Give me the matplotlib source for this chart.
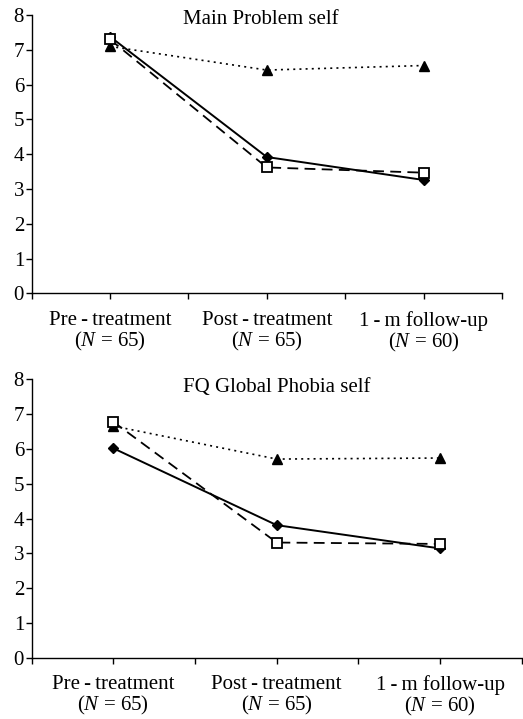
import matplotlib.pyplot as plt

plt.rcParams['font.family'] = ['Liberation Serif', 'DejaVu Serif']
plt.rcParams['mathtext.fontset'] = 'custom'
plt.rcParams['mathtext.rm'] = 'Liberation Serif'
plt.rcParams['mathtext.it'] = 'Liberation Serif:italic'

# time points
categories = ["Pre\u2009-\u2009treatment\n($N$ = 65)",
              "Post\u2009-\u2009treatment\n($N$ = 65)",
              "1\u2009-\u2009m follow-up\n($N$ = 60)"]

# Main Problem self
main_solid = [7.38, 3.92, 3.26]
main_dashed = [7.30, 3.62, 3.47]
main_dotted = [7.10, 6.42, 6.55]

# FQ Global Phobia self
fq_solid = [6.02, 3.81, 3.14]
fq_dashed = [6.78, 3.31, 3.27]
fq_dotted = [6.66, 5.71, 5.74]

fig = plt.figure(figsize=(5.23, 7.19), dpi=100)
ax1 = fig.add_axes([0.0606, 0.592, 0.899, 0.387])
ax2 = fig.add_axes([0.0606, 0.0853, 0.937, 0.387])


def draw(ax, solid, dashed, dotted, title, tx, ty):
    x = range(len(categories))
    ax.plot(x, dotted, color='black', lw=1.2, ls=(0, (1.2, 2.5)),
            marker='^', ms=7, mfc='black', mec='black', clip_on=False, zorder=3)
    ax.plot(x, solid, color='black', lw=1.4, ls='-',
            marker='D', ms=5.5, mfc='black', mec='black', clip_on=False, zorder=4)
    ax.plot(x, dashed, color='black', lw=1.3, ls=(0, (6, 3.5)),
            marker='s', ms=7, mfc='white', mec='black', mew=1.3, clip_on=False, zorder=5)
    ax.set_xlim(-0.5, 2.5)
    ax.set_ylim(0, 8)
    ax.set_yticks(range(0, 9))
    ax.set_xticks(list(x))
    ax.set_xticklabels(categories, fontsize=15, linespacing=1.0)
    ax.set_xticks([-0.5, 0.5, 1.5, 2.5], minor=True)
    ax.tick_params(axis='both', which='both', direction='out', length=4.5,
                   width=1, color='black', labelsize=15)
    ax.tick_params(axis='x', pad=8)
    ax.tick_params(axis='y', pad=1)
    for s in ['top', 'right']:
        ax.spines[s].set_visible(False)
    for s in ['left', 'bottom']:
        ax.spines[s].set_linewidth(1)
    ax.text(tx, ty, title, transform=ax.transAxes, ha='center', va='center',
            fontsize=15)


draw(ax1, main_solid, main_dashed, main_dotted, "Main Problem self", 0.488, 0.985)
draw(ax2, fq_solid, fq_dashed, fq_dotted, "FQ Global Phobia self", 0.50, 0.972)

fig.savefig("out.png", dpi=100)
